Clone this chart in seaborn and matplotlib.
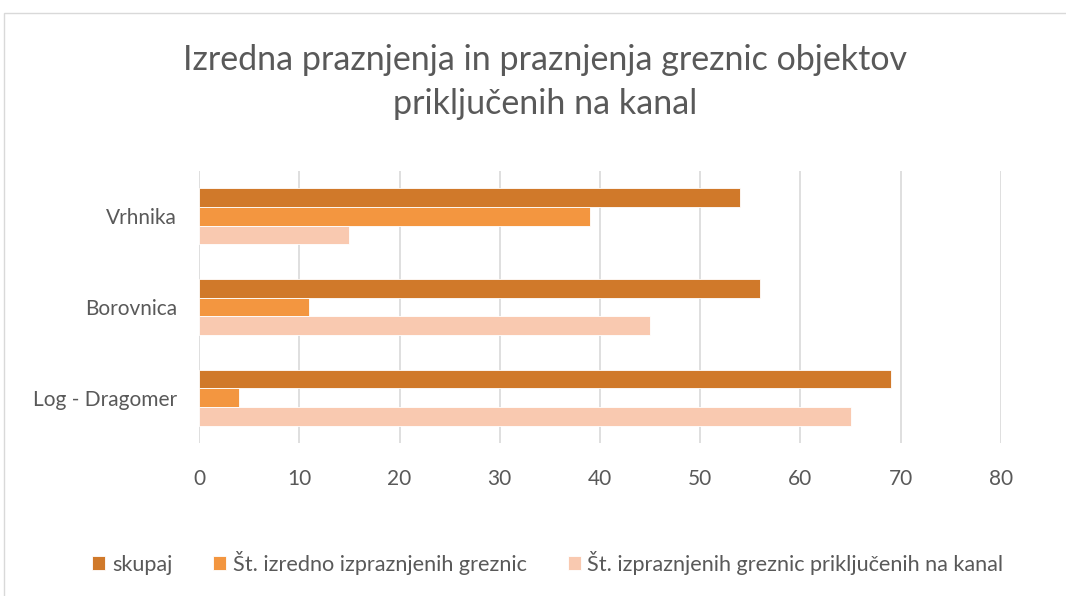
import numpy as np
import pandas as pd
import matplotlib.pyplot as plt
import seaborn as sns
from matplotlib.patches import Rectangle

# podatki
kraji = ['Vrhnika', 'Borovnica', 'Log - Dragomer']
serije = ['skupaj', 'Št. izredno izpraznjenih greznic', 'Št. izpraznjenih greznic priključenih na kanal']
skupaj = [54, 56, 69]
izredno = [39, 11, 4]
kanal = [15, 45, 65]
x_ticks = [0, 10, 20, 30, 40, 50, 60, 70, 80]

barve = ['#D0792A', '#F39640', '#F9C9B0']
siva = '#595959'

sns.set_theme(style='white')
plt.rcParams['font.family'] = ['Lato', 'DejaVu Sans']

df = pd.DataFrame({
    'kraj': kraji * 3,
    'serija': [serije[0]] * 3 + [serije[1]] * 3 + [serije[2]] * 3,
    'vrednost': skupaj + izredno + kanal,
})

fig = plt.figure(figsize=(10.66, 5.96), dpi=100)
ax = fig.add_axes([199 / 1066, (596 - 443) / 596, 802 / 1066, 272 / 596])

sns.barplot(data=df, y='kraj', x='vrednost', hue='serija', order=kraji, hue_order=serije,
            palette=barve, saturation=1, orient='h', width=0.62, edgecolor='white', linewidth=0.6,
            ax=ax, legend=True)

ax.set_xlim(0, 80)
ax.set_ylim(2.5, -0.5)
ax.set_xticks(x_ticks)
ax.set_xticklabels([str(t) for t in x_ticks])
ax.set_xlabel('')
ax.set_ylabel('')
ax.grid(axis='x', color='#D9D9D9', linewidth=1.2)
ax.set_axisbelow(True)
for s in ax.spines.values():
    s.set_visible(False)
ax.tick_params(axis='both', length=0, labelsize=15, labelcolor=siva)
ax.tick_params(axis='x', pad=19)
ax.tick_params(axis='y', pad=16)

handles, labels = ax.get_legend_handles_labels()
ax.get_legend().remove()
fig.legend(handles, labels, loc='center', bbox_to_anchor=(548 / 1066, 1 - 563 / 596), ncol=3,
           frameon=False, fontsize=15.6, labelcolor=siva, handlelength=0.6, handleheight=0.6,
           handletextpad=0.3, columnspacing=1.9)

fig.text(545 / 1066, 1 - 82 / 596, 'Izredna praznjenja in praznjenja greznic objektov\npriključenih na kanal',
         ha='center', va='center', fontsize=24.5, color=siva, linespacing=1.45)

# okvir grafikona
fig.patches.append(Rectangle((4 / 1066, -0.1), 1.2, 1 - 13 / 596 + 0.1, transform=fig.transFigure,
                             fill=False, edgecolor='#D9D9D9', linewidth=1))

fig.savefig('out.png', dpi=100)
